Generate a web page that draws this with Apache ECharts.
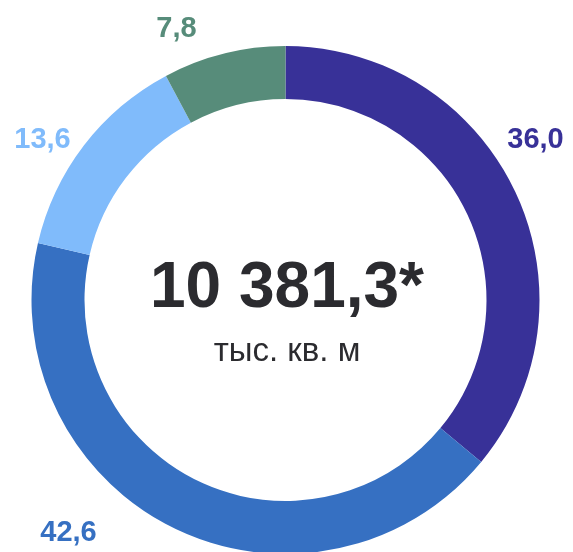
<!DOCTYPE html>
<html>
<head>
<meta charset="utf-8">
<script src="https://cdn.jsdelivr.net/npm/echarts@6/dist/echarts.min.js"></script>
<style>
html,body{margin:0;padding:0;background:#fff;}
#chart{width:573px;height:552px;}
</style>
</head>
<body>
<div id="chart"></div>
<script>
// Data
var categories = ['Сегмент 1', 'Сегмент 2', 'Сегмент 3', 'Сегмент 4'];
var values = [36.0, 42.6, 13.6, 7.8];
var valueLabels = ['36,0', '42,6', '13,6', '7,8'];
var totalText = '10 381,3*';
var unitText = 'тыс. кв. м';

// Styles
var colors = ['#383198', '#3670c2', '#80bbfb', '#578c7a'];
var labelPos = [[535.5, 140], [68.5, 532.5], [42.5, 140], [176.5, 29]];
var FONT = 'Arial, "Liberation Sans", sans-serif';

var chart = echarts.init(document.getElementById('chart'), null, {renderer: 'canvas'});
var data = values.map(function (v, i) {
  return {
    name: categories[i],
    value: v,
    itemStyle: {color: colors[i]},
    label: {color: colors[i], formatter: valueLabels[i]}
  };
});
chart.setOption({
  animation: false,
  series: [{
    type: 'pie',
    center: [285.5, 300],
    radius: [201, 254],
    startAngle: 90,
    clockwise: true,
    avoidLabelOverlap: false,
    silent: true,
    label: {
      show: true,
      position: 'outside',
      fontFamily: FONT,
      fontWeight: 'bold',
      fontSize: 29
    },
    labelLine: {show: false},
    labelLayout: function (p) {
      var pos = labelPos[p.dataIndex];
      return {x: pos[0], y: pos[1], align: 'center', verticalAlign: 'middle'};
    },
    data: data
  }],
  graphic: [
    {
      type: 'text',
      x: 287, y: 289,
      style: {
        text: totalText,
        fill: '#2b2b2f',
        font: 'bold 64px ' + FONT,
        textAlign: 'center',
        textVerticalAlign: 'middle'
      }
    },
    {
      type: 'text',
      x: 287, y: 352,
      style: {
        text: unitText,
        fill: '#2b2b2f',
        font: '33px ' + FONT,
        textAlign: 'center',
        textVerticalAlign: 'middle'
      }
    }
  ]
});
</script>
</body>
</html>
